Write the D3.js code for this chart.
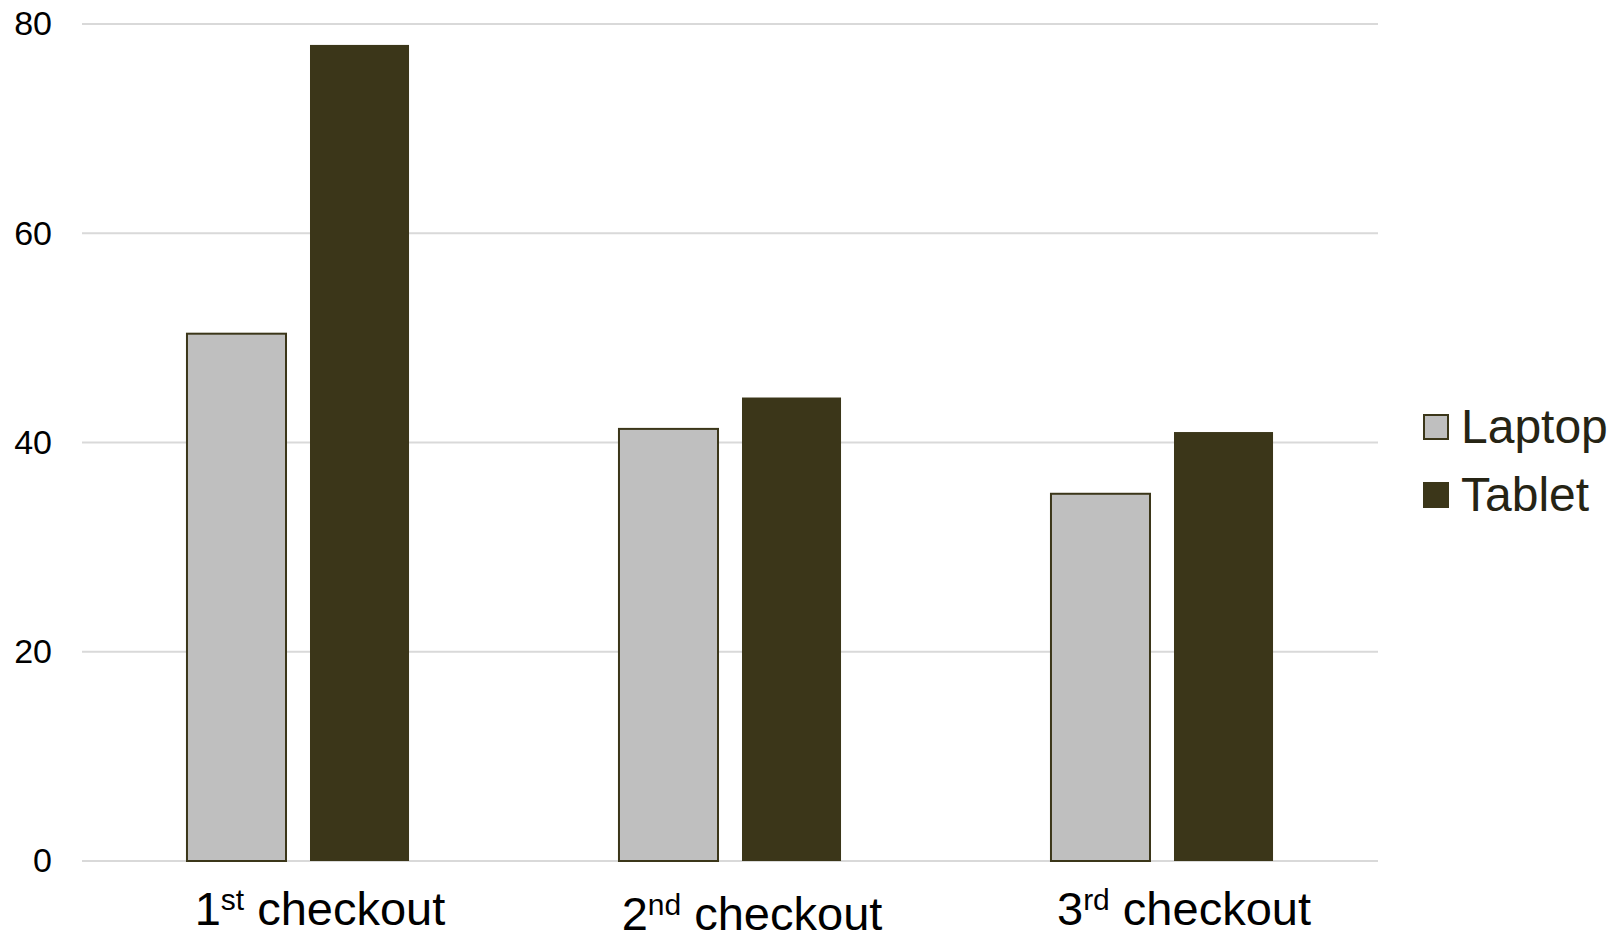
<!DOCTYPE html>
<html>
<head>
<meta charset="utf-8">
<script src="https://cdn.jsdelivr.net/npm/d3@7"></script>
<style>
  html, body { margin: 0; padding: 0; background: #fff; }
  svg { display: block; font-family: "Liberation Sans", Arial, sans-serif; }
</style>
</head>
<body>
<svg id="chart" width="1619" height="933"></svg>
<script>
// Checkout times by device
const categories = ["1", "2", "3"];
const ordinalSuffix = ["st", "nd", "rd"];
const series = ["Laptop", "Tablet"];
const laptopValues = [50.4, 41.3, 35.1];
const tabletValues = [78.0, 44.3, 41.0];
const yTicks = [0, 20, 40, 60, 80];

const colors = { Laptop: "#bfbfbf", Tablet: "#3b3619" };
const outline = "#3b3619";

const svg = d3.select("#chart");
const margin = { left: 82, right: 241, top: 24, bottom: 72 };
const width = 1619 - margin.left - margin.right;
const height = 933 - margin.top - margin.bottom;

const g = svg.append("g").attr("transform", `translate(${margin.left},${margin.top})`);

const y = d3.scaleLinear().domain([0, 80]).range([height, 0]);
const x0 = d3.scaleBand().domain(categories).range([0, width])
  .paddingInner(0.486).paddingOuter(0.243);
const x1 = d3.scaleBand().domain(series).range([0, x0.bandwidth()])
  .paddingInner(0.195).paddingOuter(0);

// gridlines
g.selectAll(".grid").data(yTicks).join("line")
  .attr("x1", 0).attr("x2", width)
  .attr("y1", d => y(d)).attr("y2", d => y(d))
  .attr("stroke", "#d9d9d9").attr("stroke-width", 2);

// y labels
const yAxis = d3.axisLeft(y).tickValues(yTicks).tickSize(0).tickPadding(30);
const ya = g.append("g").call(yAxis);
ya.select(".domain").remove();
ya.selectAll("text").attr("font-size", 34).attr("fill", "#000")
  .attr("font-family", "'Liberation Sans', Arial, sans-serif");

const rows = categories.map((c, i) => ({ cat: c, Laptop: laptopValues[i], Tablet: tabletValues[i] }));

const groups = g.selectAll(".grp").data(rows).join("g")
  .attr("transform", d => `translate(${x0(d.cat)},0)`);

groups.selectAll("rect").data(d => series.map(s => ({ s, v: d[s] }))).join("rect")
  .attr("x", d => x1(d.s))
  .attr("width", x1.bandwidth())
  .attr("y", d => y(d.v))
  .attr("height", d => y(0) - y(d.v))
  .attr("fill", d => colors[d.s])
  .attr("stroke", d => d.s === "Laptop" ? outline : "none")
  .attr("stroke-width", 2);

// category labels
const labels = g.selectAll(".xlab").data(categories).join("text")
  .attr("x", d => x0(d) + x0.bandwidth() / 2 + 22)
  .attr("y", (d, i) => height + 64 + (i === 1 ? 5 : 0))
  .attr("text-anchor", "middle")
  .attr("font-size", 47)
  .attr("fill", "#000");
labels.append("tspan").text(d => d);
labels.append("tspan").text((d, i) => ordinalSuffix[i])
  .attr("font-size", 30).attr("dy", -15);
labels.append("tspan").text(" checkout").attr("dy", 15);

// legend
const legend = svg.append("g").attr("transform", "translate(1423,414)");
const li = legend.selectAll("g").data(series).join("g")
  .attr("transform", (d, i) => `translate(0,${i * 68})`);
li.append("rect").attr("x", 1).attr("y", 1).attr("width", 24).attr("height", 24)
  .attr("fill", d => colors[d])
  .attr("stroke", d => d === "Laptop" ? "#3b3619" : colors[d])
  .attr("stroke-width", 2);
li.append("text").attr("x", 38).attr("y", 29)
  .attr("font-size", 48).attr("fill", "#262414")
  .text(d => d);
</script>
</body>
</html>
